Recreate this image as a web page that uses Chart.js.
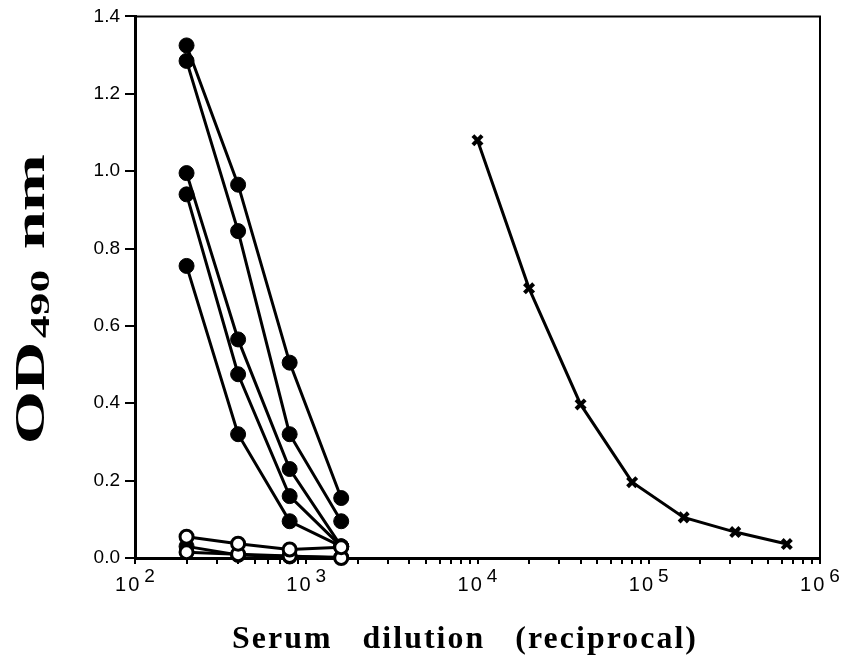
<!DOCTYPE html>
<html>
<head>
<meta charset="utf-8">
<script src="https://cdn.jsdelivr.net/npm/chart.js@4.4.1/dist/chart.umd.min.js"></script>
<style>
  html, body { margin: 0; padding: 0; background: #fff; }
  #wrap { width: 842px; height: 662px; }
</style>
</head>
<body>
<div id="wrap"><canvas id="chart"></canvas></div>
<script>
// serum dilutions (reciprocal) for the immune sera, and the reference curve
const seraDilutions = [200, 400, 800, 1600];
const refDilutions = [10000, 20000, 40000, 80000, 160000, 320000, 640000];

// immune sera (filled circles)
const serum1 = [1.325, 0.965, 0.505, 0.155];
const serum2 = [1.285, 0.845, 0.32, 0.095];
const serum3 = [0.995, 0.565, 0.23, 0.03];
const serum4 = [0.94, 0.475, 0.16, 0.03];
const serum5 = [0.755, 0.32, 0.095, 0.03];
const serum6 = [0.03, 0.008, 0.004, 0.002];

// pre-immune sera (open circles)
const control1 = [0.055, 0.037, 0.022, 0.028];
const control2 = [0.015, 0.01, 0.005, 0.0];

// reference antiserum (crosses)
const reference = [1.08, 0.697, 0.397, 0.196, 0.105, 0.067, 0.036];

const xDecades = [1e2, 1e3, 1e4, 1e5, 1e6];
const xMinorSteps = [2, 3, 4, 5, 6, 7, 8, 9];
const yTicks = [0, 0.2, 0.4, 0.6, 0.8, 1.0, 1.2, 1.4];

const yTitle = { main: "OD", sub: "490", tail: " nm" };
const xTitle = "Serum   dilution   (reciprocal)";

const supDigits = { 2: "\u00b2", 3: "\u00b3", 4: "\u2074", 5: "\u2075", 6: "\u2076" };

function pairs(xs, ys) {
  return ys.map((y, i) => ({ x: xs[i], y }));
}

function filled(values) {
  return {
    data: pairs(seraDilutions, values),
    borderColor: "#000",
    borderWidth: 3,
    pointStyle: "circle",
    pointRadius: 7.5,
    pointBackgroundColor: "#000",
    pointBorderColor: "#000",
    pointBorderWidth: 1,
    clip: false,
  };
}

function open(values) {
  return {
    data: pairs(seraDilutions, values),
    borderColor: "#000",
    borderWidth: 3,
    pointStyle: "circle",
    pointRadius: 6.5,
    pointBackgroundColor: "#fff",
    pointBorderColor: "#000",
    pointBorderWidth: 3,
    clip: false,
  };
}

const xTickList = [];
xDecades.forEach((d, i) => {
  xTickList.push(d);
  if (i < xDecades.length - 1) xMinorSteps.forEach((m) => xTickList.push(d * m));
});

const framePlugin = {
  id: "frame",
  afterDraw(chart) {
    const { ctx, chartArea: a, scales } = chart;
    ctx.save();
    ctx.strokeStyle = "#000";
    ctx.lineWidth = 2;
    ctx.beginPath();
    ctx.moveTo(a.left, a.top);
    ctx.lineTo(a.right, a.top);
    ctx.lineTo(a.right, a.bottom);
    ctx.stroke();

    // x tick labels: 10 with raised exponent
    ctx.fillStyle = "#000";
    ctx.textBaseline = "alphabetic";
    ctx.textAlign = "left";
    const baseFont = '20px "Liberation Sans", Arial, sans-serif';
    const expFont = '19px "Liberation Sans", Arial, sans-serif';
    xDecades.forEach((d) => {
      const px = scales.x.getPixelForValue(d);
      const exp = String(Math.round(Math.log10(d)));
      ctx.font = baseFont;
      ctx.letterSpacing = "2px";
      const w10 = ctx.measureText("10").width;
      ctx.font = expFont;
      ctx.letterSpacing = "0px";
      const wExp = ctx.measureText(exp).width;
      const start = px - (w10 + 3 + wExp) / 2;
      ctx.font = baseFont;
      ctx.letterSpacing = "2px";
      ctx.fillText("10", start, a.bottom + 33);
      ctx.font = expFont;
      ctx.letterSpacing = "0px";
      ctx.fillText(exp, start + w10 + 3, a.bottom + 24);
    });

    // y axis title, rotated
    ctx.save();
    const cy = (a.top + a.bottom) / 2 + 12;
    ctx.translate(44, cy);
    ctx.rotate(-Math.PI / 2);
    const big = 'bold 42px "Liberation Serif", "Times New Roman", serif';
    const small = 'bold 28px "Liberation Serif", "Times New Roman", serif';
    ctx.font = big;
    const wMain = ctx.measureText(yTitle.main).width;
    const wTail = ctx.measureText(yTitle.tail).width;
    ctx.font = small;
    const wSub = ctx.measureText(yTitle.sub).width;
    const natural = wMain + wSub + wTail + 4;
    const sx = 290 / natural;
    ctx.scale(sx, 1);
    let x0 = -natural / 2;
    ctx.font = big;
    ctx.fillText(yTitle.main, x0, 0);
    x0 += wMain + 2;
    ctx.font = small;
    ctx.fillText(yTitle.sub, x0, 5);
    x0 += wSub + 2;
    ctx.font = big;
    ctx.fillText(yTitle.tail, x0, 0);
    ctx.restore();

    // x axis title
    ctx.save();
    ctx.font = 'bold 31px "Liberation Serif", "Times New Roman", serif';
    ctx.letterSpacing = "2px";
    const wx = ctx.measureText(xTitle).width;
    const sxx = 466 / wx;
    ctx.translate(465, 648);
    ctx.scale(sxx, 1);
    ctx.textAlign = "center";
    ctx.fillText(xTitle, 0, 0);
    ctx.restore();

    ctx.restore();
  },
};

new Chart(document.getElementById("chart"), {
  type: "line",
  data: {
    datasets: [
      open(control1),
      open(control2),
      filled(serum6),
      filled(serum1),
      filled(serum2),
      filled(serum3),
      filled(serum4),
      filled(serum5),
      {
        data: pairs(refDilutions, reference),
        borderColor: "#000",
        borderWidth: 3,
        pointStyle: "crossRot",
        pointRadius: 6.5,
        pointBorderColor: "#000",
        pointBorderWidth: 4,
        clip: false,
      },
    ],
  },
  options: {
    responsive: true,
    maintainAspectRatio: false,
    animation: false,
    layout: { padding: { top: 15, right: 22, left: 0, bottom: 0 } },
    plugins: { legend: { display: false }, tooltip: { enabled: false } },
    elements: { line: { tension: 0 } },
    scales: {
      x: {
        type: "logarithmic",
        min: 100,
        max: 1e6,
        border: { display: true, color: "#000", width: 3 },
        grid: { drawOnChartArea: false, drawTicks: true, tickLength: 6, color: "#000", lineWidth: 2 },
        ticks: {
          autoSkip: false,
          maxRotation: 0,
          color: "rgba(0,0,0,0)",
          font: { size: 18 },
          callback: (v) => (xDecades.includes(v) ? "10" + supDigits[Math.round(Math.log10(v))] : ""),
        },
        afterBuildTicks: (scale) => {
          scale.ticks = xTickList.map((v) => ({ value: v, major: xDecades.includes(v) }));
        },
        afterFit: (scale) => {
          scale.height = 104;
        },
      },
      y: {
        min: 0,
        max: 1.4,
        border: { display: true, color: "#000", width: 3 },
        grid: { drawOnChartArea: false, drawTicks: true, tickLength: 10, color: "#000", lineWidth: 2 },
        ticks: {
          color: "#000",
          padding: 5,
          font: { family: "Liberation Sans", size: 19 },
          callback: (v) => Number(v).toFixed(1),
        },
        afterBuildTicks: (scale) => {
          scale.ticks = yTicks.map((v) => ({ value: v }));
        },
        afterFit: (scale) => {
          scale.width = 135;
        },
      },
    },
  },
  plugins: [framePlugin],
});
</script>
</body>
</html>
